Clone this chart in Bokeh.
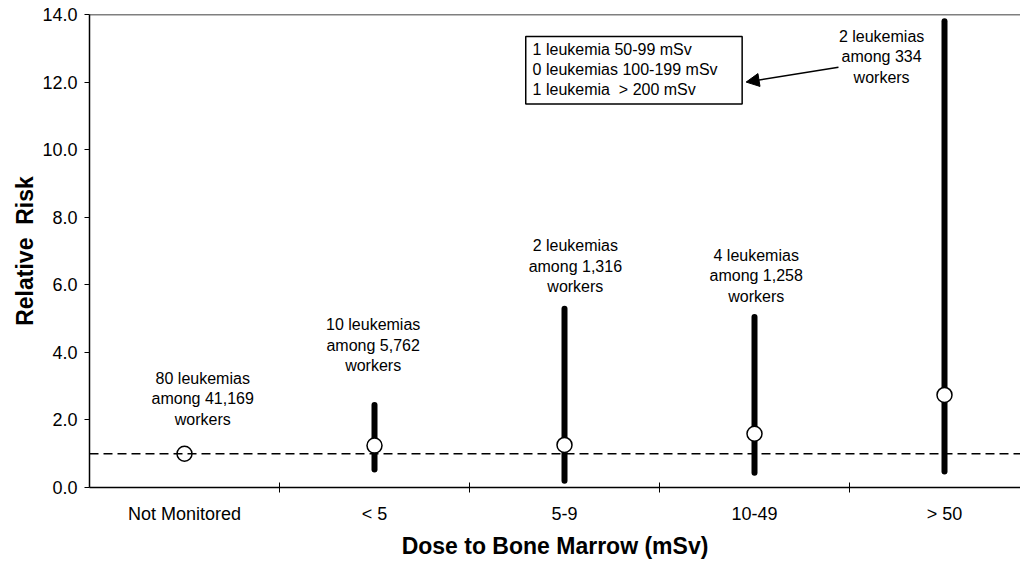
from bokeh.plotting import figure
from bokeh.models import (Range1d, FixedTicker, PrintfTickFormatter, Span,
                          BoxAnnotation, Arrow, NormalHead, ColumnDataSource, Label)
from bokeh.embed import file_html
from bokeh.resources import INLINE
from bokeh.core.properties import value

# ---- data ----
categories = ["Not Monitored", "< 5", "5-9", "10-49", "> 50"]
relative_risk = [1.0, 1.24, 1.26, 1.59, 2.74]
ci_low = [None, 0.53, 0.20, 0.44, 0.47]
ci_high = [None, 2.44, 5.29, 5.05, 13.8]
reference_rr = 1.0
case_lines = [
    ["80 leukemias", "among 41,169", "workers"],
    ["10 leukemias", "among 5,762", "workers"],
    ["2 leukemias", "among 1,316", "workers"],
    ["4 leukemias", "among 1,258", "workers"],
    ["2 leukemias", "among 334", "workers"],
]
box_lines = ["1 leukemia 50-99 mSv", "0 leukemias 100-199 mSv", "1 leukemia\u00a0 > 200 mSv"]
y_ticks = [0, 2, 4, 6, 8, 10, 12, 14]

FONT = "Liberation Sans"

xc = [i + 0.5 for i in range(len(categories))]

p = figure(width=1020, height=561, output_backend="svg", toolbar_location=None,
           x_range=Range1d(0, 4.9), y_range=Range1d(0, 14),
           min_border_left=89, min_border_right=0, min_border_top=14, min_border_bottom=60)
p.outline_line_color = None
p.xgrid.visible = False
p.ygrid.visible = False
p.background_fill_color = "white"

# top border
p.add_layout(Span(location=14, dimension="width", line_color="black", line_width=1.5))
# reference line
p.add_layout(Span(location=reference_rr, dimension="width", line_color="black",
                  line_width=1.5, line_dash="9 5"))

# error bars
ex = [xc[i] for i in range(len(categories)) if ci_low[i] is not None]
el = [ci_low[i] for i in range(len(categories)) if ci_low[i] is not None]
eh = [ci_high[i] for i in range(len(categories)) if ci_low[i] is not None]
p.segment(x0=ex, y0=el, x1=ex, y1=eh, line_color="black", line_width=6, line_cap="round")

# points
p.scatter(x=xc, y=relative_risk, size=15, fill_color="white", line_color="black",
          line_width=1.5)

# case annotations (anchor of first line, data units)
label_x = [0.596, 1.493, 2.557, 3.509, 4.169]
label_y = [3.235, 4.82, 7.15, 6.88, 13.35]
tx, ty, tt, toff = [], [], [], []
for i, lines in enumerate(case_lines):
    for j, t in enumerate(lines):
        tx.append(label_x[i]); ty.append(label_y[i]); tt.append(t); toff.append(j * 20.5)
src = ColumnDataSource(dict(x=tx, y=ty, text=tt, yo=toff))
p.text(x="x", y="y", text="text", y_offset="yo", source=src, text_align="center",
       text_baseline="middle", text_font=value(FONT), text_font_size="16px",
       text_color="black")

# box annotation
p.add_layout(BoxAnnotation(left=2.296, right=3.435, bottom=11.35, top=13.35,
                           fill_color="white", fill_alpha=1, line_color="black",
                           line_alpha=1, line_width=1.5))
for j, t in enumerate(box_lines):
    p.add_layout(Label(x=2.332, y=12.97, text=t, y_offset=-j * 20, text_align="left",
                       text_baseline="middle", text_font=FONT, text_font_size="16px",
                       text_color="black"))

p.add_layout(Arrow(end=NormalHead(size=13, fill_color="black", line_color="black"),
                   x_start=3.942, y_start=12.44, x_end=3.456, y_end=12.0,
                   line_color="black", line_width=1.5))

# axes
p.xaxis.ticker = FixedTicker(ticks=xc, minor_ticks=[1, 2, 3, 4])
p.xaxis.major_label_overrides = {x: c for x, c in zip(xc, categories)}
p.xaxis.major_tick_line_color = None
p.xaxis.major_tick_out = 0
p.xaxis.major_tick_in = 0
p.xaxis.minor_tick_in = 5
p.xaxis.minor_tick_out = 5
p.xaxis.minor_tick_line_color = "black"
p.xaxis.major_label_standoff = 11
p.xaxis.axis_label = "Dose to Bone Marrow (mSv)"
p.xaxis.axis_label_standoff = 6

p.yaxis.ticker = FixedTicker(ticks=y_ticks)
p.yaxis.formatter = PrintfTickFormatter(format="%.1f")
p.yaxis.minor_tick_line_color = None
p.yaxis.major_tick_out = 5
p.yaxis.major_tick_in = 0
p.yaxis.major_label_standoff = 7
p.yaxis.axis_label = "Relative\u00a0 Risk"
p.yaxis.axis_label_standoff = 1

for ax in (p.xaxis[0], p.yaxis[0]):
    ax.axis_line_color = "black"
    ax.axis_line_width = 1.5
    ax.major_tick_line_width = 1
    ax.major_label_text_font = FONT
    ax.major_label_text_font_size = "18px"
    ax.major_label_text_color = "black"
    ax.axis_label_text_font = FONT
    ax.axis_label_text_font_size = "23px"
    ax.axis_label_text_font_style = "bold"
    ax.axis_label_text_color = "black"

open("out.html", "w").write(file_html(p, INLINE))
